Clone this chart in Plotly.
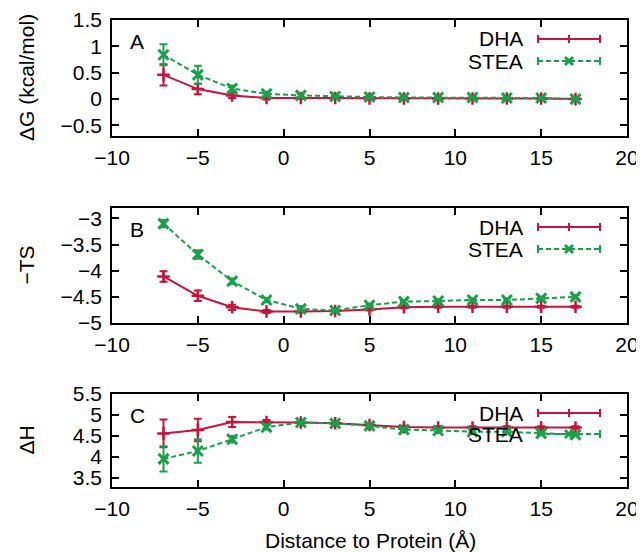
import plotly.graph_objects as go

distance = [-7, -5, -3, -1, 1, 3, 5, 7, 9, 11, 13, 15, 17]

dG_dha = [0.46, 0.19, 0.07, 0.02, 0.02, 0.02, 0.01, 0.01, 0.01, 0.01, 0.01, 0.01, 0.0]
dG_dha_err = [0.2, 0.1, 0.05, 0.03, 0.02, 0.02, 0.02, 0.02, 0.02, 0.02, 0.02, 0.02, 0.02]
dG_stea = [0.84, 0.46, 0.2, 0.1, 0.07, 0.05, 0.04, 0.03, 0.03, 0.03, 0.02, 0.02, 0.0]
dG_stea_err = [0.2, 0.17, 0.06, 0.04, 0.03, 0.02, 0.02, 0.02, 0.02, 0.02, 0.02, 0.02, 0.02]

ts_dha = [-4.11, -4.48, -4.7, -4.78, -4.78, -4.77, -4.74, -4.7, -4.69, -4.69, -4.69, -4.69, -4.69]
ts_dha_err = [0.1, 0.1, 0.05, 0.03, 0.02, 0.02, 0.02, 0.02, 0.02, 0.02, 0.02, 0.02, 0.02]
ts_stea = [-3.1, -3.69, -4.2, -4.56, -4.73, -4.76, -4.66, -4.59, -4.58, -4.56, -4.56, -4.53, -4.5]
ts_stea_err = [0.07, 0.08, 0.05, 0.04, 0.03, 0.02, 0.02, 0.03, 0.03, 0.03, 0.03, 0.03, 0.03]

dH_dha = [4.56, 4.64, 4.83, 4.83, 4.82, 4.8, 4.76, 4.71, 4.7, 4.7, 4.7, 4.7, 4.7]
dH_dha_err = [0.33, 0.27, 0.12, 0.05, 0.03, 0.03, 0.03, 0.03, 0.03, 0.03, 0.03, 0.03, 0.03]
dH_stea = [3.95, 4.14, 4.42, 4.71, 4.82, 4.8, 4.74, 4.65, 4.63, 4.6, 4.6, 4.56, 4.53]
dH_stea_err = [0.3, 0.28, 0.08, 0.06, 0.03, 0.03, 0.03, 0.03, 0.03, 0.03, 0.03, 0.03, 0.03]

x_ticks = [-10, -5, 0, 5, 10, 15, 20]
panel_labels = ["A", "B", "C"]
y_titles = ["ΔG (kcal/mol)", "−TS", "ΔH"]
y_ticks = [[-0.5, 0, 0.5, 1, 1.5], [-5, -4.5, -4, -3.5, -3], [3.5, 4, 4.5, 5, 5.5]]
y_ranges = [[-0.7, 1.5], [-5, -2.8], [3.28, 5.5]]
series_names = ["DHA", "STEA"]

RED = "#c8143c"
GREEN = "#1aa04a"
FONT = "Liberation Sans, Arial, Helvetica, sans-serif"
FS = 21
DASH = "5px,3px"

# page has an 8px body margin: figure drawn 8px in from the window corner
OFF = 8
W, H = 644 - OFF, 552 - OFF


def px(v):
    return v - OFF


ML = px(112)
MR = W - px(627)
MT = px(20)
MB = H - px(487)
plot_h = H - MT - MB
pw = W - ML - MR
panels_px = [(px(20), px(136)), (px(208), px(323)), (px(394), px(487))]
domains = [[(H - MB - b) / plot_h, (H - MB - t) / plot_h] for t, b in panels_px]

data = [
    (dG_dha, dG_dha_err, dG_stea, dG_stea_err),
    (ts_dha, ts_dha_err, ts_stea, ts_stea_err),
    (dH_dha, dH_dha_err, dH_stea, dH_stea_err),
]

fig = go.Figure()
for i, (yd, ed, ys, es) in enumerate(data):
    xa = "x" if i == 0 else f"x{i+1}"
    ya = "y" if i == 0 else f"y{i+1}"
    fig.add_trace(go.Scatter(
        x=distance, y=yd, xaxis=xa, yaxis=ya, mode="lines+markers",
        name=series_names[0], showlegend=False,
        line=dict(color=RED, width=2),
        marker=dict(symbol="cross-thin", size=9, line=dict(color=RED, width=2.5)),
        error_y=dict(type="data", array=ed, color=RED, thickness=2, width=4),
    ))
    fig.add_trace(go.Scatter(
        x=distance, y=ys, xaxis=xa, yaxis=ya, mode="lines+markers",
        name=series_names[1], showlegend=False,
        line=dict(color=GREEN, width=2, dash=DASH),
        marker=dict(symbol="x-thin", size=10, line=dict(color=GREEN, width=3)),
        error_y=dict(type="data", array=es, color=GREEN, thickness=2, width=4),
    ))

axis_common = dict(
    showline=True, linecolor="black", linewidth=1.5, mirror="ticks",
    ticks="inside", ticklen=7, tickwidth=1.5, tickcolor="black",
    showgrid=False, zeroline=False, automargin=False,
    tickfont=dict(family=FONT, size=FS, color="black"),
)

layout = dict(
    width=W, height=H,
    margin=dict(l=ML, r=MR, t=MT, b=MB),
    paper_bgcolor="white", plot_bgcolor="white",
    font=dict(family=FONT, size=FS, color="black"),
    showlegend=False,
)

shapes = []
annotations = []
for i in range(3):
    xk = "xaxis" if i == 0 else f"xaxis{i+1}"
    yk = "yaxis" if i == 0 else f"yaxis{i+1}"
    xa = "x" if i == 0 else f"x{i+1}"
    ya = "y" if i == 0 else f"y{i+1}"
    layout[xk] = dict(axis_common, range=[-10, 20], tickvals=x_ticks,
                      anchor=ya, domain=[0, 1], ticklabelstandoff=2)
    layout[yk] = dict(axis_common, range=y_ranges[i], tickvals=y_ticks[i],
                      anchor=xa, domain=domains[i], ticklabelstandoff=4)
    t, b = panels_px[i]
    ph = b - t
    # y-axis title
    annotations.append(dict(
        text=y_titles[i], xref="paper", yref=f"{ya} domain",
        x=(px(26) - ML) / pw, y=0.5, textangle=-90,
        xanchor="center", yanchor="middle", showarrow=False,
        font=dict(family=FONT, size=FS, color="black"),
    ))
    # panel letter
    annotations.append(dict(
        text=panel_labels[i], xref=f"{xa} domain", yref=f"{ya} domain",
        x=(px(137) - ML) / pw, y=1 - 21 / ph,
        xanchor="center", yanchor="middle", showarrow=False,
        font=dict(family=FONT, size=FS, color="black"),
    ))
    # custom gnuplot-style legend
    tx = (px(525) - ML) / pw
    lx0 = (px(538) - ML) / pw
    lx1 = (px(600) - ML) / pw
    lxm = (lx0 + lx1) / 2
    offs = [19, 41] if i < 2 else [19, 40]
    for k, (name, col, dash) in enumerate([(series_names[0], RED, "solid"),
                                           (series_names[1], GREEN, DASH)]):
        yy = 1 - offs[k] / ph
        annotations.append(dict(
            text=name, xref=f"{xa} domain", yref=f"{ya} domain",
            x=tx, y=yy, xanchor="right", yanchor="middle", showarrow=False,
            font=dict(family=FONT, size=FS, color="black"),
        ))
        cap = 4 / ph
        shapes.append(dict(type="line", xref=f"{xa} domain", yref=f"{ya} domain",
                           x0=lx0, x1=lx1, y0=yy, y1=yy,
                           line=dict(color=col, width=2, dash=dash)))
        for cx in (lx0, lx1):
            shapes.append(dict(type="line", xref=f"{xa} domain", yref=f"{ya} domain",
                               x0=cx, x1=cx, y0=yy - cap, y1=yy + cap,
                               line=dict(color=col, width=2)))
        mw = 4 / pw
        if k == 0:
            shapes.append(dict(type="line", xref=f"{xa} domain", yref=f"{ya} domain",
                               x0=lxm, x1=lxm, y0=yy - cap, y1=yy + cap,
                               line=dict(color=col, width=2)))
        else:
            shapes.append(dict(type="line", xref=f"{xa} domain", yref=f"{ya} domain",
                               x0=lxm - mw, x1=lxm + mw, y0=yy - cap, y1=yy + cap,
                               line=dict(color=col, width=3)))
            shapes.append(dict(type="line", xref=f"{xa} domain", yref=f"{ya} domain",
                               x0=lxm - mw, x1=lxm + mw, y0=yy + cap, y1=yy - cap,
                               line=dict(color=col, width=3)))

annotations.append(dict(
    text="Distance to Protein (Å)", xref="paper", yref="paper",
    x=(px(370) - ML) / pw, y=-(px(540) - (H - MB)) / plot_h,
    xanchor="center", yanchor="middle", showarrow=False,
    font=dict(family=FONT, size=FS, color="black"),
))
layout["shapes"] = shapes
layout["annotations"] = annotations
fig.update_layout(**layout)
fig.write_html("out.html")
